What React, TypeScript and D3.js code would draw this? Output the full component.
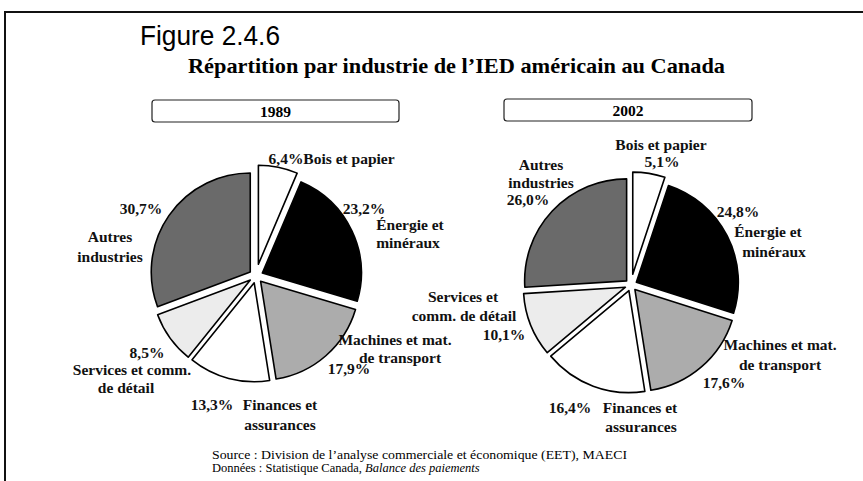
import React, { useRef, useEffect } from 'react';
import * as d3 from 'd3';

// Data (clockwise from 12 o'clock)
const categories = [
  'Bois et papier',
  'Énergie et minéraux',
  'Machines et mat. de transport',
  'Finances et assurances',
  'Services et comm. de détail',
  'Autres industries',
];
const values1989 = [6.4, 23.2, 17.9, 13.3, 8.5, 30.7];
const values2002 = [5.1, 24.8, 17.6, 16.4, 10.1, 26.0];
const years = ['1989', '2002'];
const fills = ['#ffffff', '#000000', '#acacac', '#ffffff', '#ececec', '#6a6a6a'];

// label layout: [category index, text or 'pct', x center, baseline]
const labels1989: [number, string, number, number][] = [
  [0, 'pct', 286, 164],
  [0, 'Bois et papier', 349, 164],
  [1, 'pct', 364, 214],
  [1, 'Énergie et', 410, 230],
  [1, 'minéraux', 408, 248],
  [2, 'Machines et mat.', 395, 345],
  [2, 'de transport', 400, 363],
  [2, 'pct', 349, 374],
  [3, 'pct', 212, 410],
  [3, 'Finances et', 280, 410],
  [3, 'assurances', 280, 430],
  [4, 'pct', 147, 358],
  [4, 'Services et comm.', 132, 375],
  [4, 'de détail', 126, 393],
  [5, 'pct', 141, 214],
  [5, 'Autres', 110, 242],
  [5, 'industries', 110, 262],
];
const labels2002: [number, string, number, number][] = [
  [0, 'Bois et papier', 661, 150],
  [0, 'pct', 662, 167],
  [1, 'pct', 738, 217],
  [1, 'Énergie et', 768, 237],
  [1, 'minéraux', 774, 257],
  [2, 'Machines et mat.', 780, 350],
  [2, 'de transport', 780, 370],
  [2, 'pct', 724, 388],
  [3, 'pct', 570, 413],
  [3, 'Finances et', 640, 413],
  [3, 'assurances', 641, 432],
  [4, 'Services et', 463, 302],
  [4, 'comm. de détail', 464, 321],
  [4, 'pct', 504, 340],
  [5, 'Autres', 541, 170],
  [5, 'industries', 541, 188],
  [5, 'pct', 528, 205],
];

const pies = [
  { year: years[0], values: values1989, labels: labels1989, cx: 256, cy: 276, r: 99, explode: 7, explodeFirst: 12, box: [152, 100, 247, 22] },
  { year: years[1], values: values2002, labels: labels2002, cx: 631, cy: 285, r: 102, explode: 6, explodeFirst: 11, box: [504, 99, 248, 22] },
];

const pctFmt = (v: number) => d3.format('.1f')(v).replace('.', ',') + '%';
const serif = '"Liberation Serif", "Times New Roman", serif';

const App = () => {
  const ref = useRef<SVGSVGElement>(null);

  useEffect(() => {
    const svg = d3.select(ref.current);
    svg.selectAll('*').remove();

    // frame
    svg.append('line').attr('x1', 5).attr('x2', 863).attr('y1', 12).attr('y2', 12)
      .attr('stroke', '#111').attr('stroke-width', 2);
    svg.append('line').attr('x1', 5).attr('x2', 5).attr('y1', 11).attr('y2', 481)
      .attr('stroke', '#111').attr('stroke-width', 2);

    svg.append('text').attr('x', 140).attr('y', 45)
      .attr('font-family', '"Liberation Sans", Arial, sans-serif').attr('font-size', 27)
      .attr('textLength', 140).attr('lengthAdjust', 'spacingAndGlyphs')
      .text('Figure 2.4.6');

    svg.append('text').attr('x', 188).attr('y', 73)
      .attr('font-family', serif).attr('font-weight', 'bold')
      .attr('font-size', 21.5).attr('textLength', 537).attr('lengthAdjust', 'spacingAndGlyphs')
      .text('Répartition par industrie de l’IED américain au Canada');

    const pie = d3.pie<number>().sort(null).value((d) => d).startAngle(0).endAngle(2 * Math.PI);

    pies.forEach((p) => {
      const g = svg.append('g');
      const [bx, by, bw, bh] = p.box;
      g.append('rect').attr('x', bx).attr('y', by).attr('width', bw).attr('height', bh)
        .attr('rx', 3).attr('fill', '#fff').attr('stroke', '#222').attr('stroke-width', 1.2);
      g.append('text').attr('x', bx + bw / 2).attr('y', by + 17).attr('text-anchor', 'middle')
        .attr('font-family', serif).attr('font-weight', 'bold')
        .attr('font-size', 15.5).text(p.year);

      const arc = d3.arc<d3.PieArcDatum<number>>().innerRadius(0).outerRadius(p.r);
      const arcs = pie(p.values);
      g.selectAll('path.slice').data(arcs).enter().append('path')
        .attr('class', 'slice')
        .attr('d', arc)
        .attr('transform', (d, i) => {
          const a = (d.startAngle + d.endAngle) / 2;
          const off = i === 0 ? p.explodeFirst : p.explode;
          return `translate(${p.cx + Math.sin(a) * off},${p.cy - Math.cos(a) * off})`;
        })
        .attr('fill', (d, i) => fills[i])
        .attr('stroke', '#000').attr('stroke-width', 1.6).attr('stroke-linejoin', 'round');

      g.selectAll('text.lbl').data(p.labels).enter().append('text')
        .attr('class', 'lbl')
        .attr('x', (d) => d[2]).attr('y', (d) => d[3])
        .attr('text-anchor', 'middle')
        .attr('font-family', serif).attr('font-weight', 'bold')
        .attr('font-size', 15.5).attr('fill', '#111')
        .text((d) => (d[1] === 'pct' ? pctFmt(p.values[d[0]]) : d[1]));
    });

    // source notes
    svg.append('text').attr('x', 212).attr('y', 459)
      .attr('font-family', serif).attr('font-size', 12.5)
      .attr('textLength', 415).attr('lengthAdjust', 'spacingAndGlyphs')
      .text('Source : Division de l’analyse commerciale et économique (EET), MAECI');
    const t2 = svg.append('text').attr('x', 212).attr('y', 472)
      .attr('font-family', serif).attr('font-size', 12.5);
    t2.append('tspan').text('Données : Statistique Canada, ');
    t2.append('tspan').attr('font-style', 'italic').text('Balance des paiements');
  }, []);

  return (
    <svg ref={ref} width={863} height={481}
      style={{ position: 'absolute', left: 0, top: 0, background: '#fff' }} />
  );
};

export default App;
